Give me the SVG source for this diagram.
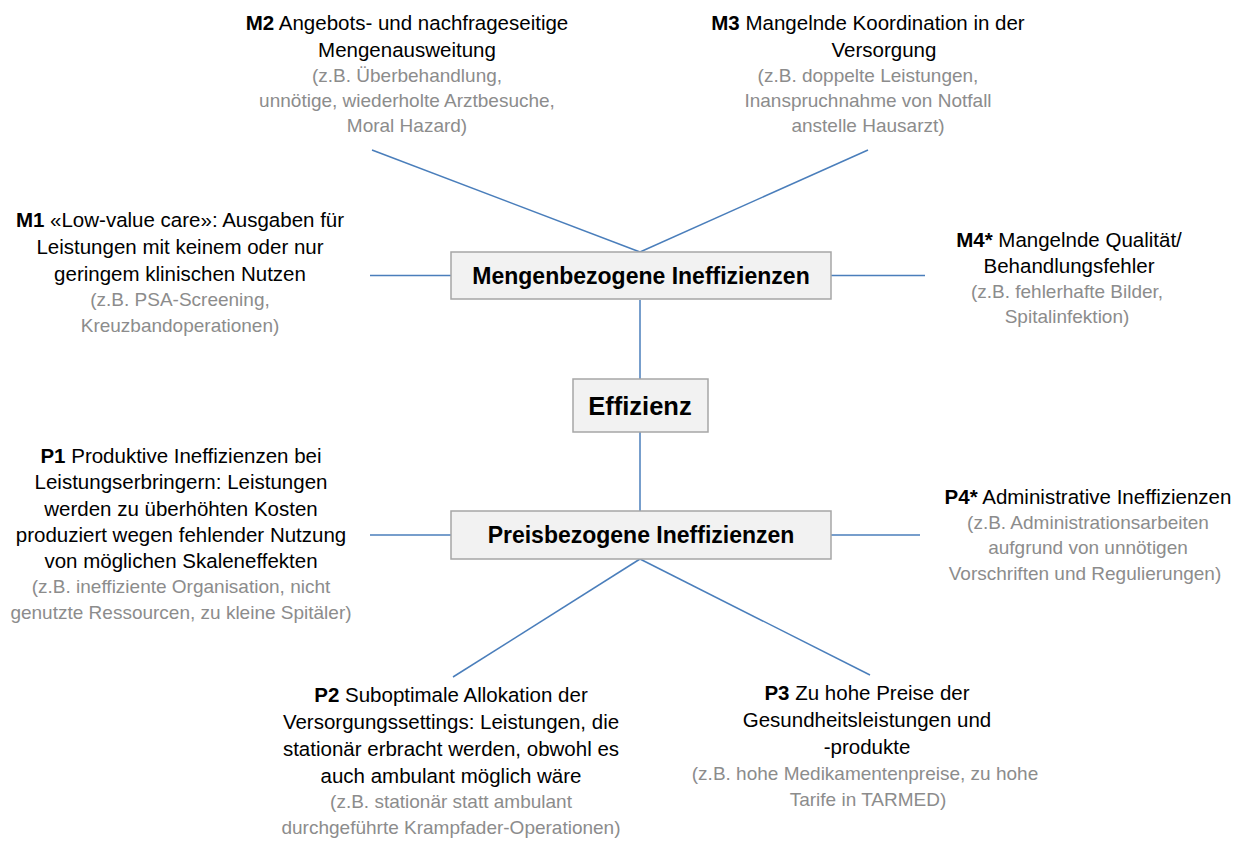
<svg xmlns="http://www.w3.org/2000/svg" width="1242" height="843" viewBox="0 0 1242 843">
<style>
text{font-family:"Liberation Sans",Arial,sans-serif;text-anchor:middle}
.t{font-size:20.5px;fill:#000}
.g{font-size:19px;fill:#8c8c8c}
.b{font-weight:bold}
.box{fill:#f2f2f2;stroke:#a6a6a6;stroke-width:1.5}
.bt{font-size:23px;font-weight:bold;fill:#000}
.c{stroke:#4a7ebb;stroke-width:1.5;fill:none}
</style>
<rect width="1242" height="843" fill="#fff"/>
<g id="connectors">
<line class="c" x1="640" y1="252" x2="372" y2="150"/>
<line class="c" x1="640" y1="252" x2="868" y2="150"/>
<line class="c" x1="370" y1="275.5" x2="451" y2="275.5"/>
<line class="c" x1="831" y1="275.5" x2="925" y2="275.5"/>
<line class="c" x1="640" y1="300" x2="640" y2="379"/>
<line class="c" x1="640" y1="432" x2="640" y2="511"/>
<line class="c" x1="370" y1="535" x2="451" y2="535"/>
<line class="c" x1="831" y1="535" x2="920" y2="535"/>
<line class="c" x1="640" y1="559" x2="453" y2="677"/>
<line class="c" x1="640" y1="559" x2="870" y2="675"/>
</g>
<g id="mengen">
<rect class="box" x="451" y="252" width="380" height="47"/>
<text class="bt" x="641" y="284">Mengenbezogene Ineffizienzen</text>
</g>
<g id="effizienz">
<rect class="box" x="573" y="379" width="135" height="53"/>
<text class="bt" x="640" y="415" style="font-size:25.5px">Effizienz</text>
</g>
<g id="preis">
<rect class="box" x="451" y="511" width="380" height="48"/>
<text class="bt" x="641" y="543">Preisbezogene Ineffizienzen</text>
</g>
<g id="m2">
<text class="t" x="407" y="30"><tspan class="b">M2</tspan> Angebots- und nachfrageseitige</text>
<text class="t" x="407" y="57">Mengenausweitung</text>
<text class="g" x="407" y="82">(z.B. Überbehandlung,</text>
<text class="g" x="407" y="107">unnötige, wiederholte Arztbesuche,</text>
<text class="g" x="407" y="132">Moral Hazard)</text>
</g>
<g id="m3">
<text class="t" x="868" y="30"><tspan class="b">M3</tspan> Mangelnde Koordination in der</text>
<text class="t" x="884" y="57">Versorgung</text>
<text class="g" x="868" y="82">(z.B. doppelte Leistungen,</text>
<text class="g" x="868" y="107">Inanspruchnahme von Notfall</text>
<text class="g" x="868" y="132">anstelle Hausarzt)</text>
</g>
<g id="m1">
<text class="t" x="180" y="227"><tspan class="b">M1</tspan> «Low-value care»: Ausgaben für</text>
<text class="t" x="180" y="254">Leistungen mit keinem oder nur</text>
<text class="t" x="180" y="281">geringem klinischen Nutzen</text>
<text class="g" x="180" y="306">(z.B. PSA-Screening,</text>
<text class="g" x="180" y="332">Kreuzbandoperationen)</text>
</g>
<g id="m4">
<text class="t" x="1069" y="247"><tspan class="b">M4*</tspan> Mangelnde Qualität/</text>
<text class="t" x="1069" y="273">Behandlungsfehler</text>
<text class="g" x="1067" y="298">(z.B. fehlerhafte Bilder,</text>
<text class="g" x="1067" y="323">Spitalinfektion)</text>
</g>
<g id="p1">
<text class="t" x="181" y="463"><tspan class="b">P1</tspan> Produktive Ineffizienzen bei</text>
<text class="t" x="181" y="489">Leistungserbringern: Leistungen</text>
<text class="t" x="181" y="516">werden zu überhöhten Kosten</text>
<text class="t" x="181" y="542">produziert wegen fehlender Nutzung</text>
<text class="t" x="181" y="568">von möglichen Skaleneffekten</text>
<text class="g" x="181" y="593">(z.B. ineffiziente Organisation, nicht</text>
<text class="g" x="181" y="619">genutzte Ressourcen, zu kleine Spitäler)</text>
</g>
<g id="p4">
<text class="t" x="1088" y="504"><tspan class="b">P4*</tspan> Administrative Ineffizienzen</text>
<text class="g" x="1088" y="529">(z.B. Administrationsarbeiten</text>
<text class="g" x="1088" y="554">aufgrund von unnötigen</text>
<text class="g" x="1085" y="580">Vorschriften und Regulierungen)</text>
</g>
<g id="p2">
<text class="t" x="451" y="702"><tspan class="b">P2</tspan> Suboptimale Allokation der</text>
<text class="t" x="451" y="729">Versorgungssettings: Leistungen, die</text>
<text class="t" x="451" y="756">stationär erbracht werden, obwohl es</text>
<text class="t" x="451" y="783">auch ambulant möglich wäre</text>
<text class="g" x="451" y="808">(z.B. stationär statt ambulant</text>
<text class="g" x="451" y="834">durchgeführte Krampfader-Operationen)</text>
</g>
<g id="p3">
<text class="t" x="867" y="700"><tspan class="b">P3</tspan> Zu hohe Preise der</text>
<text class="t" x="867" y="727">Gesundheitsleistungen und</text>
<text class="t" x="867" y="754">-produkte</text>
<text class="g" x="865" y="780">(z.B. hohe Medikamentenpreise, zu hohe</text>
<text class="g" x="868" y="806">Tarife in TARMED)</text>
</g>
</svg>
